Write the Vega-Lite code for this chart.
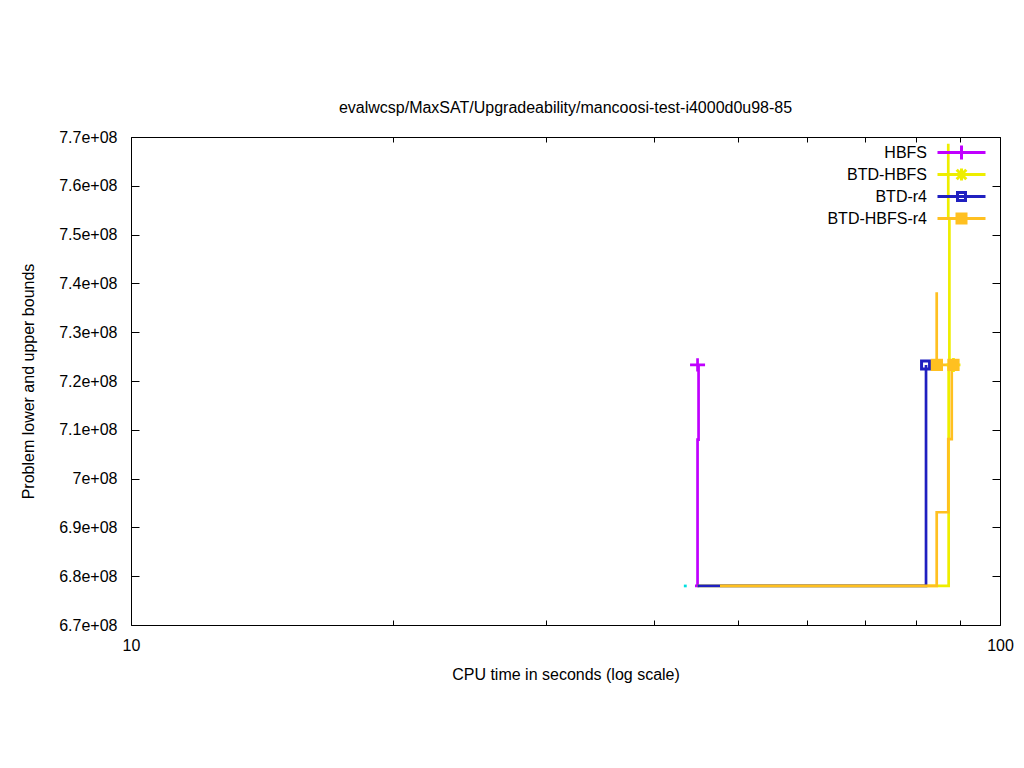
{
  "$schema": "https://vega.github.io/schema/vega-lite/v6.json",
  "width": 869,
  "height": 488,
  "autosize": {"type": "none"},
  "padding": {"left": 131, "top": 137, "right": 24, "bottom": 143},
  "background": "white",
  "title": {
    "text": "evalwcsp/MaxSAT/Upgradeability/mancoosi-test-i4000d0u98-85",
    "font": "Liberation Sans",
    "fontSize": 16,
    "fontWeight": "normal",
    "color": "black",
    "anchor": "middle",
    "baseline": "alphabetic",
    "offset": 0
  },
  "config": {
    "view": {"stroke": "black", "strokeWidth": 1},
    "font": "Liberation Sans",
    "axis": {
      "domain": false,
      "grid": false,
      "tickColor": "black",
      "tickWidth": 1,
      "labelColor": "black",
      "titleColor": "black",
      "labelFont": "Liberation Sans",
      "titleFont": "Liberation Sans",
      "labelFontSize": 16,
      "titleFontSize": 16,
      "titleFontWeight": "normal",
      "labelOverlap": false,
      "labelFlush": false
    }
  },
  "datasets": {
    "lines": [
      {"series": "HBFS", "seg": "h1", "k": 0, "t": 44.57, "v": 678000000},
      {"series": "HBFS", "seg": "h1", "k": 1, "t": 44.87, "v": 678000000},
      {"series": "HBFS", "seg": "h1", "k": 2, "t": 44.87, "v": 708000000},
      {"series": "HBFS", "seg": "h1", "k": 3, "t": 44.99, "v": 708000000},
      {"series": "HBFS", "seg": "h1", "k": 4, "t": 44.99, "v": 723300000},
      {"series": "BTD-HBFS", "seg": "y1", "k": 0, "t": 44.87, "v": 678000000},
      {"series": "BTD-HBFS", "seg": "y1", "k": 1, "t": 87.28, "v": 678000000},
      {"series": "BTD-HBFS", "seg": "y1", "k": 2, "t": 87.28, "v": 723300000},
      {"series": "BTD-HBFS", "seg": "y2", "k": 0, "t": 87.19, "v": 768600000},
      {"series": "BTD-HBFS", "seg": "y2", "k": 1, "t": 87.19, "v": 753300000},
      {"series": "BTD-HBFS", "seg": "y2", "k": 2, "t": 87.45, "v": 753300000},
      {"series": "BTD-HBFS", "seg": "y2", "k": 3, "t": 87.45, "v": 723300000},
      {"series": "BTD-HBFS", "seg": "y2", "k": 4, "t": 88.4, "v": 723300000},
      {"series": "BTD-r4", "seg": "b1", "k": 0, "t": 44.87, "v": 678000000},
      {"series": "BTD-r4", "seg": "b1", "k": 1, "t": 82.2, "v": 678000000},
      {"series": "BTD-r4", "seg": "b1", "k": 2, "t": 82.2, "v": 723300000},
      {"series": "BTD-HBFS-r4", "seg": "o1", "k": 0, "t": 47.62, "v": 678000000},
      {"series": "BTD-HBFS-r4", "seg": "o1", "k": 1, "t": 84.56, "v": 678000000},
      {"series": "BTD-HBFS-r4", "seg": "o1", "k": 2, "t": 84.56, "v": 693100000},
      {"series": "BTD-HBFS-r4", "seg": "o1", "k": 3, "t": 87.19, "v": 693100000},
      {"series": "BTD-HBFS-r4", "seg": "o1", "k": 4, "t": 87.19, "v": 708100000},
      {"series": "BTD-HBFS-r4", "seg": "o1", "k": 5, "t": 88.0, "v": 708100000},
      {"series": "BTD-HBFS-r4", "seg": "o1", "k": 6, "t": 88.0, "v": 723300000},
      {"series": "BTD-HBFS-r4", "seg": "o2", "k": 0, "t": 84.56, "v": 738200000},
      {"series": "BTD-HBFS-r4", "seg": "o2", "k": 1, "t": 84.56, "v": 723300000},
      {"series": "BTD-HBFS-r4", "seg": "o2", "k": 2, "t": 88.0, "v": 723300000}
    ],
    "cyan": [
      {"seg": "c1", "k": 0, "t": 43.27, "v": 678000000},
      {"seg": "c1", "k": 1, "t": 43.6, "v": 678000000}
    ],
    "markers": [
      {"series": "HBFS", "t": 44.87, "v": 723300000},
      {"series": "BTD-HBFS", "t": 88.4, "v": 723300000},
      {"series": "BTD-r4", "t": 82.1, "v": 723300000},
      {"series": "BTD-HBFS-r4", "t": 84.6, "v": 723300000},
      {"series": "BTD-HBFS-r4", "t": 88.4, "v": 723300000}
    ],
    "legend": [
      {"series": "HBFS", "t": 50, "v": 700000000},
      {"series": "BTD-HBFS", "t": 50, "v": 700000000},
      {"series": "BTD-r4", "t": 50, "v": 700000000},
      {"series": "BTD-HBFS-r4", "t": 50, "v": 700000000}
    ]
  },
  "resolve": {"axis": {"x": "independent", "y": "independent"}},
  "layer": [
    {
      "data": {"name": "legend"},
      "mark": {"type": "point", "filled": false, "size": 144, "opacity": 0, "strokeWidth": 3},
      "encoding": {
        "x": {
          "field": "t", "type": "quantitative",
          "scale": {"type": "log", "domain": [10, 100], "nice": false},
          "axis": {
            "orient": "bottom",
            "values": [10, 20, 30, 40, 50, 60, 70, 80, 90, 100],
            "labelExpr": "datum.value === 10 ? '10' : (datum.value === 100 ? '100' : '')",
            "tickSize": -5,
            "labelPadding": 30,
            "labelBaseline": "alphabetic",
            "title": "CPU time in seconds (log scale)",
            "titleBaseline": "alphabetic",
            "titleY": 54
          }
        },
        "y": {
          "field": "v", "type": "quantitative",
          "scale": {"domain": [670000000, 770000000], "nice": false, "zero": false},
          "axis": {
            "orient": "left",
            "values": [670000000, 680000000, 690000000, 700000000, 710000000, 720000000, 730000000, 740000000, 750000000, 760000000, 770000000],
            "labelExpr": "replace(format(datum.value, '.1~e'), 'e+8', 'e+08')",
            "tickSize": -8,
            "labelPadding": 22,
            "title": "Problem lower and upper bounds",
            "titleBaseline": "alphabetic",
            "titleX": -97.8
          }
        },
        "color": {
          "field": "series", "type": "nominal",
          "scale": {"domain": ["HBFS", "BTD-HBFS", "BTD-r4", "BTD-HBFS-r4"], "range": ["#c000ff", "#eeee00", "#2020c0", "#ffc020"]}
        },
        "shape": {
          "field": "series", "type": "nominal",
          "scale": {
            "domain": ["HBFS", "BTD-HBFS", "BTD-r4", "BTD-HBFS-r4"],
            "range": [
              "M0,-1.25M0,1.25M-4,0H4M0,-1.1667V1.1667",
              "M0,-1.25M0,1.25M-4,0H4M0,-1V1M-0.8,-0.8L0.8,0.8M-0.8,0.8L0.8,-0.8",
              "M0,-1.25M0,1.25M-4,0H4M-0.9167,-0.6667H0.9167M0.6667,-0.6667V0.6667M0.9167,0.6667H-0.9167M-0.6667,0.6667V-0.6667",
              "M0,-1.25M0,1.25M-4,0H4M-1,-0.75H1M-1,-0.25H1M-1,0.25H1M-1,0.75H1"
            ]
          },
          "legend": {
            "title": null,
            "orient": "none",
            "legendX": 822.5,
            "legendY": 7.5,
            "padding": 0,
            "rowPadding": -8.3,
            "symbolSize": 144,
            "symbolStrokeWidth": 3,
            "symbolOffset": 0,
            "labelOffset": -42.5,
            "labelAlign": "right",
            "labelFont": "Liberation Sans",
            "labelFontSize": 16,
            "labelColor": "black",
            "symbolOpacity": 1
          }
        }
      }
    },
    {
      "data": {"name": "cyan"},
      "mark": {"type": "line", "strokeWidth": 2.7, "color": "#00e0e0"},
      "encoding": {
        "x": {"field": "t", "type": "quantitative", "axis": {
            "orient": "top",
            "values": [10, 20, 30, 40, 50, 60, 70, 80, 90, 100],
            "labels": false,
            "tickSize": -5,
            "title": null
          }},
        "y": {"field": "v", "type": "quantitative", "axis": {
            "orient": "right",
            "values": [670000000, 680000000, 690000000, 700000000, 710000000, 720000000, 730000000, 740000000, 750000000, 760000000, 770000000],
            "labels": false,
            "tickSize": -8,
            "title": null
          }},
        "detail": {"field": "seg"},
        "order": {"field": "k"}
      }
    },
    {
      "data": {"name": "lines"},
      "transform": [{"filter": "datum.series === 'HBFS'"}],
      "mark": {"type": "line", "strokeWidth": 2.7, "strokeJoin": "miter"},
      "encoding": {
        "x": {"field": "t", "type": "quantitative", "axis": null},
        "y": {"field": "v", "type": "quantitative", "axis": null},
        "color": {"field": "series", "type": "nominal"},
        "detail": {"field": "seg"},
        "order": {"field": "k"}
      }
    },
    {
      "data": {"name": "lines"},
      "transform": [{"filter": "datum.series === 'BTD-HBFS'"}],
      "mark": {"type": "line", "strokeWidth": 2.7, "strokeJoin": "miter"},
      "encoding": {
        "x": {"field": "t", "type": "quantitative", "axis": null},
        "y": {"field": "v", "type": "quantitative", "axis": null},
        "color": {"field": "series", "type": "nominal"},
        "detail": {"field": "seg"},
        "order": {"field": "k"}
      }
    },
    {
      "data": {"name": "lines"},
      "transform": [{"filter": "datum.series === 'BTD-r4'"}],
      "mark": {"type": "line", "strokeWidth": 2.7, "strokeJoin": "miter"},
      "encoding": {
        "x": {"field": "t", "type": "quantitative", "axis": null},
        "y": {"field": "v", "type": "quantitative", "axis": null},
        "color": {"field": "series", "type": "nominal"},
        "detail": {"field": "seg"},
        "order": {"field": "k"}
      }
    },
    {
      "data": {"name": "lines"},
      "transform": [{"filter": "datum.series === 'BTD-HBFS-r4'"}],
      "mark": {"type": "line", "strokeWidth": 2.7, "strokeJoin": "miter"},
      "encoding": {
        "x": {"field": "t", "type": "quantitative", "axis": null},
        "y": {"field": "v", "type": "quantitative", "axis": null},
        "color": {"field": "series", "type": "nominal"},
        "detail": {"field": "seg"},
        "order": {"field": "k"}
      }
    },
    {
      "data": {"name": "markers"},
      "transform": [{"filter": "datum.series === 'HBFS'"}],
      "mark": {"type": "point", "filled": false, "shape": "M-1,0H1M0,-0.87V0.87", "size": 225, "strokeWidth": 2.7, "opacity": 1},
      "encoding": {
        "x": {"field": "t", "type": "quantitative", "axis": null},
        "y": {"field": "v", "type": "quantitative", "axis": null},
        "color": {"field": "series", "type": "nominal"}
      }
    },
    {
      "data": {"name": "markers"},
      "transform": [{"filter": "datum.series === 'BTD-HBFS'"}],
      "mark": {"type": "point", "filled": false, "shape": "M-1,0H1M0,-1V1M-0.7,-0.7L0.7,0.7M-0.7,0.7L0.7,-0.7", "size": 196, "strokeWidth": 2.7, "opacity": 1},
      "encoding": {
        "x": {"field": "t", "type": "quantitative", "axis": null},
        "y": {"field": "v", "type": "quantitative", "axis": null},
        "color": {"field": "series", "type": "nominal"}
      }
    },
    {
      "data": {"name": "markers"},
      "transform": [{"filter": "datum.series === 'BTD-r4'"}],
      "mark": {"type": "point", "filled": false, "shape": "square", "size": 64, "strokeWidth": 3, "opacity": 1},
      "encoding": {
        "x": {"field": "t", "type": "quantitative", "axis": null},
        "y": {"field": "v", "type": "quantitative", "axis": null},
        "color": {"field": "series", "type": "nominal"}
      }
    },
    {
      "data": {"name": "markers"},
      "transform": [{"filter": "datum.series === 'BTD-HBFS-r4'"}],
      "mark": {"type": "point", "filled": true, "shape": "square", "size": 150, "opacity": 1},
      "encoding": {
        "x": {"field": "t", "type": "quantitative", "axis": null},
        "y": {"field": "v", "type": "quantitative", "axis": null},
        "color": {"field": "series", "type": "nominal"}
      }
    }
  ]
}
